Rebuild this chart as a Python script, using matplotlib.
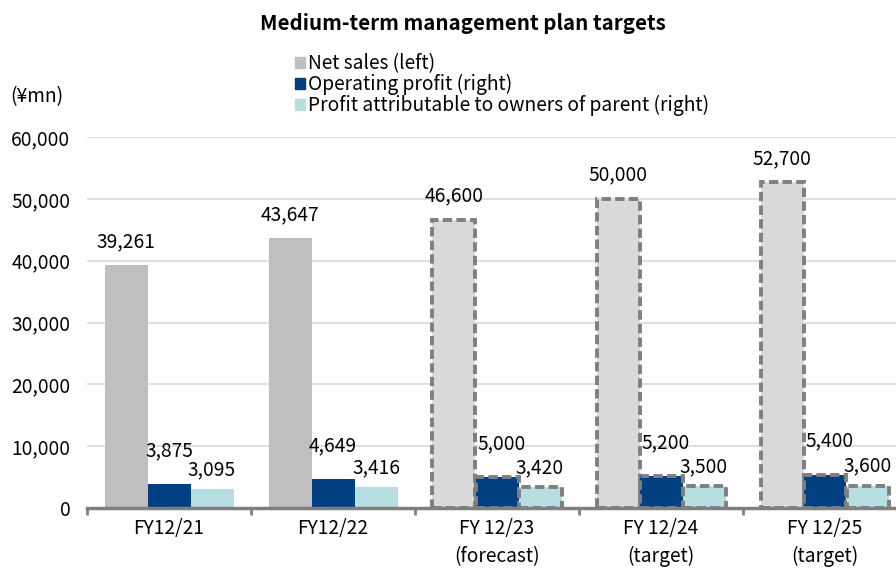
import matplotlib
matplotlib.use('Agg')
from matplotlib import pyplot as plt
from matplotlib.patches import Patch
import numpy as np

plt.rcParams['font.family'] = ['Noto Sans CJK JP', 'DejaVu Sans']

# data
categories = ['FY12/21', 'FY12/22', 'FY 12/23\n(forecast)', 'FY 12/24\n(target)', 'FY 12/25\n(target)']
net_sales = [39261, 43647, 46600, 50000, 52700]
op_profit = [3875, 4649, 5000, 5200, 5400]
net_profit = [3095, 3416, 3420, 3500, 3600]
is_plan = [False, False, True, True, True]

c_net = '#bfbfbf'
c_net_plan = '#d9d9d9'
c_op = '#003f80'
c_prof = '#b7dfe2'
c_edge = '#7f7f7f'
dash = (0, (2.4, 1.1))
fs = 13.8

fig = plt.figure(figsize=(8.96, 5.69), dpi=100)
# axes goes past right edge of the figure like the original (cropped)
ax = fig.add_axes([87/896, 1-508/569, (907-87)/896, (508-137)/569])

x = np.arange(len(categories)) + 0.5
w = 43/164

for i in range(len(categories)):
    if is_plan[i]:
        kw = dict(edgecolor=c_edge, linewidth=2.8, linestyle=dash)
        fc = c_net_plan
    else:
        kw = dict(linewidth=0)
        fc = c_net
    ax.bar(x[i]-w, net_sales[i], w, color=fc, zorder=3, **kw)
    ax.bar(x[i], op_profit[i], w, color=c_op, zorder=3, **kw)
    ax.bar(x[i]+w, net_profit[i], w, color=c_prof, zorder=3, **kw)
    ax.annotate(f'{net_sales[i]:,}', (x[i]-w, net_sales[i]), xytext=(0, 17),
                textcoords='offset points', ha='center', va='center', fontsize=fs)
    ax.annotate(f'{op_profit[i]:,}', (x[i], op_profit[i]), xytext=(3 if is_plan[i] else 0, 24),
                textcoords='offset points', ha='center', va='center', fontsize=fs)
    ax.annotate(f'{net_profit[i]:,}', (x[i]+w, net_profit[i]), xytext=(0, 14),
                textcoords='offset points', ha='center', va='center', fontsize=fs)

ax.set_xlim(0, 5)
ax.set_ylim(0, 60000)
ax.set_yticks(np.arange(0, 60001, 10000))
ax.set_yticklabels([f'{v:,}' for v in range(0, 60001, 10000)], fontsize=fs)
ax.tick_params(axis='y', length=0, pad=12)
ax.yaxis.grid(True, color='#d9d9d9', linewidth=1.2, zorder=0)
ax.set_axisbelow(True)

ax.set_xticks(np.arange(0, 6))
ax.set_xticklabels([])
ax.tick_params(axis='x', which='major', length=5, width=2, color=c_edge, direction='out')
ax.set_xticks(x, minor=True)
ax.set_xticklabels(categories, minor=True, fontsize=fs, linespacing=1.45)
ax.tick_params(axis='x', which='minor', length=0, pad=7)

for s in ['left', 'right', 'top']:
    ax.spines[s].set_visible(False)
ax.spines['bottom'].set_color(c_edge)
ax.spines['bottom'].set_linewidth(2.5)
ax.spines['bottom'].set_zorder(4)

fig.text(463/896, 1-23/569, 'Medium-term management plan targets', ha='center', va='center',
         fontsize=14.8, fontweight='bold')
fig.text(10/896, 1-97/569, '(¥mn)', ha='left', va='center', fontsize=fs)

handles = [Patch(color=c_net), Patch(color=c_op), Patch(color=c_prof)]
labels = ['Net sales (left)', 'Operating profit (right)', 'Profit attributable to owners of parent (right)']
fig.legend(handles, labels, loc='upper left', bbox_to_anchor=(295/896, 1-53/569), frameon=False,
           handlelength=0.5, handleheight=0.5, handletextpad=0.2, labelspacing=0.0,
           fontsize=fs, borderpad=0, borderaxespad=0)

fig.savefig('out.png', dpi=100)
